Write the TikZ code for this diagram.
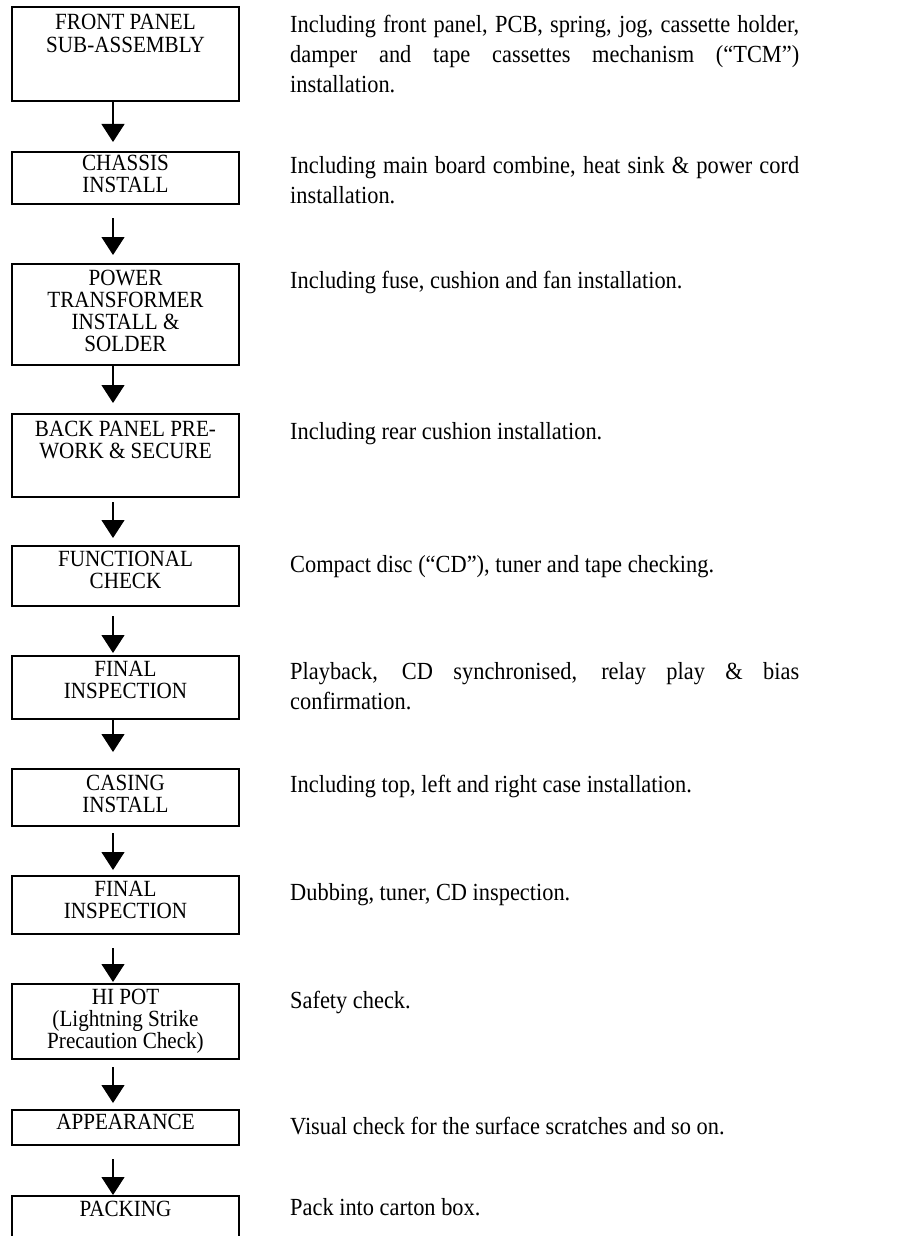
\documentclass[tikz,border=0pt]{standalone}
\usepackage{fontspec}
\setmainfont{Liberation Serif}
\newfontfamily\tallserif[FakeStretch=0.91]{Liberation Serif}
\usetikzlibrary{arrows.meta}
\tolerance=9999
\hbadness=10000
\begin{document}
\begin{tikzpicture}[x=1pt,y=1pt,
  stepbox/.style={draw, line width=1.5pt, minimum width=227pt, inner sep=0pt, outer sep=0pt, anchor=north west},
  boxlabel/.style={text width=227pt, align=flush center, inner sep=0pt, anchor=base, font=\tallserif\fontsize{23.2}{22.2}\selectfont},
  desc/.style={text width=509pt, align=justify, inner sep=0pt, anchor=base west, font=\tallserif\fontsize{24.6}{30}\selectfont},
  flow/.style={line width=1.1pt, -{Triangle[width=23pt,length=18pt]}}]
\path[use as bounding box, fill=white] (0,0) rectangle (923,-1236);
\clip (0,0) rectangle (923,-1236);

% boxes
\node[stepbox, minimum height=94pt]  (b1)  at (12,-7) {};
\node[stepbox, minimum height=52pt]  (b2)  at (12,-152) {};
\node[stepbox, minimum height=101pt] (b3)  at (12,-264) {};
\node[stepbox, minimum height=83pt]  (b4)  at (12,-414) {};
\node[stepbox, minimum height=60pt]  (b5)  at (12,-546) {};
\node[stepbox, minimum height=63pt]  (b6)  at (12,-656) {};
\node[stepbox, minimum height=57pt]  (b7)  at (12,-769) {};
\node[stepbox, minimum height=58pt]  (b8)  at (12,-876) {};
\node[stepbox, minimum height=75pt]  (b9)  at (12,-984) {};
\node[stepbox, minimum height=35pt]  (b10) at (12,-1110) {};
\node[stepbox, minimum height=54pt]  (b11) at (12,-1196) {};

% box labels
\node[boxlabel] (t1)  at (125.5,-30)    {FRONT PANEL\\SUB-ASSEMBLY};
\node[boxlabel] (t2)  at (125.5,-170)   {CHASSIS\\INSTALL};
\node[boxlabel] (t3)  at (125.5,-285)   {POWER\\TRANSFORMER\\INSTALL \&\\SOLDER};
\node[boxlabel] (t4)  at (125.5,-436.7) {BACK PANEL PRE-\\WORK \& SECURE};
\node[boxlabel] (t5)  at (125.5,-566.7) {FUNCTIONAL\\CHECK};
\node[boxlabel] (t6)  at (125.5,-676.7) {FINAL\\INSPECTION};
\node[boxlabel] (t7)  at (125.5,-790)   {CASING\\INSTALL};
\node[boxlabel] (t8)  at (125.5,-896.7) {FINAL\\INSPECTION};
\node[boxlabel] (t9)  at (125.5,-1004.3) {HI POT\\(Lightning Strike\\Precaution Check)};
\node[boxlabel] (t10) at (125.5,-1129)  {APPEARANCE};
\node[boxlabel] (t11) at (125.5,-1216)  {PACKING};

% descriptions
\node[desc] (d1)  at (290,-33)  {Including front panel, PCB, spring, jog, cassette holder,\linebreak damper and tape cassettes mechanism (“TCM”)\linebreak installation.};
\node[desc] (d2)  at (290,-173) {Including main board combine, heat sink \& power cord\linebreak installation.};
\node[desc] (d3)  at (290,-288) {Including fuse, cushion and fan installation.};
\node[desc] (d4)  at (290,-439) {Including rear cushion installation.};
\node[desc] (d5)  at (290,-572) {Compact disc (“CD”), tuner and tape checking.};
\node[desc] (d6)  at (290,-679) {Playback, CD synchronised, relay play \& bias\linebreak confirmation.};
\node[desc] (d7)  at (290,-792) {Including top, left and right case installation.};
\node[desc] (d8)  at (290,-900) {Dubbing, tuner, CD inspection.};
\node[desc] (d9)  at (290,-1008) {Safety check.};
\node[desc] (d10) at (290,-1134) {Visual check for the surface scratches and so on.};
\node[desc] (d11) at (290,-1215) {Pack into carton box.};

% arrows
\draw[flow] ([shift={(-12.5,-1)}]b1.south) -- ([shift={(-12.5,10)}]b2.north);
\draw[flow] ([shift={(-12.5,-14)}]b2.south) -- ([shift={(-12.5,9)}]b3.north);
\draw[flow] ([shift={(-12.5,-1)}]b3.south) -- ([shift={(-12.5,11)}]b4.north);
\draw[flow] ([shift={(-12.5,-5)}]b4.south) -- ([shift={(-12.5,8)}]b5.north);
\draw[flow] ([shift={(-12.5,-10)}]b5.south) -- ([shift={(-12.5,3)}]b6.north);
\draw[flow] ([shift={(-12.5,-1)}]b6.south) -- ([shift={(-12.5,17)}]b7.north);
\draw[flow] ([shift={(-12.5,-7)}]b7.south) -- ([shift={(-12.5,6)}]b8.north);
\draw[flow] ([shift={(-12.5,-14)}]b8.south) -- ([shift={(-12.5,2)}]b9.north);
\draw[flow] ([shift={(-12.5,-8)}]b9.south) -- ([shift={(-12.5,7)}]b10.north);
\draw[flow] ([shift={(-12.5,-14)}]b10.south) -- ([shift={(-12.5,1)}]b11.north);
\end{tikzpicture}
\end{document}
